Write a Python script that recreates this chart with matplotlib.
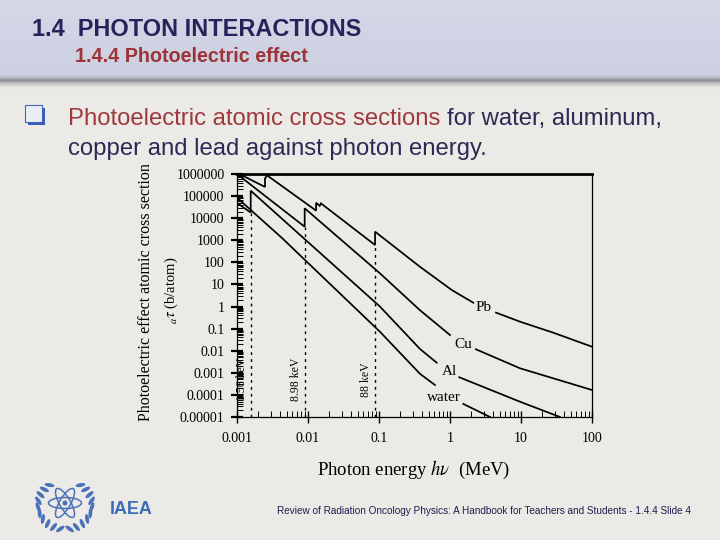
import numpy as np
import matplotlib
matplotlib.use("Agg")
import matplotlib.pyplot as plt
from matplotlib.patches import Rectangle, Ellipse
from matplotlib.ticker import FixedLocator, FixedFormatter, LogLocator, NullFormatter

# ---------------- data ----------------
energy_ticks = [0.001, 0.01, 0.1, 1, 10, 100]
energy_tick_labels = ["0.001", "0.01", "0.1", "1", "10", "100"]
sigma_ticks = [1e6, 1e5, 1e4, 1e3, 1e2, 1e1, 1, 1e-1, 1e-2, 1e-3, 1e-4, 1e-5]
sigma_tick_labels = ["1000000", "100000", "10000", "1000", "100", "10", "1",
                     "0.1", "0.01", "0.001", "0.0001", "0.00001"]

# photon energy (MeV) / photoelectric atomic cross section (b/atom)
pb_energy = [0.001, 0.00248, 0.00248, 0.00265, 0.013, 0.013, 0.0146, 0.0152,
             0.088, 0.088, 0.378, 1.06, 2.13, 4.45, 9.7, 28.5, 100]
pb_sigma = [1.13e6, 2.6e5, 6.3e5, 8.7e5, 2.2e4, 5.0e4, 3.6e4, 4.7e4,
            610, 2450, 63, 5.6, 1.49, 0.53, 0.206, 0.0655, 0.0152]

cu_energy = [0.001, 0.00898, 0.00898, 0.103, 0.378, 1.0, 2.32, 9.7, 100]
cu_sigma = [1.0e6, 4.1e3, 2.8e4, 32, 0.68, 0.0515, 0.0116, 0.0016, 1.67e-4]

al_energy = [0.001, 0.00156, 0.00156, 0.103, 0.378, 0.65, 1.35, 9.7, 35.4]
al_sigma = [4.9e4, 1.8e4, 1.75e5, 1.0, 0.012, 0.00287, 6.3e-4, 4.9e-5, 1.0e-5]

water_energy = [0.001, 0.0043, 0.103, 0.378, 0.615, 1.54, 3.66]
water_sigma = [8.5e4, 1.27e3, 0.0726, 9e-4, 2.8e-4, 3.9e-5, 1.0e-5]

material_names = ["Pb", "Cu", "Al", "water"]
# where each curve is interrupted by its label (MeV)
label_gaps = [(2.13, 4.45), (1.0, 2.32), (0.65, 1.35), (0.615, 1.54)]

edge_energy = [0.00156, 0.00898, 0.088]
edge_top = [1.8e4, 4.1e3, 610]
edge_labels = ["1.56 keV", "8.98 keV", "88 keV"]

# ---------------- figure ----------------
plt.rcParams['font.family'] = ['Liberation Serif', 'DejaVu Serif']
plt.rcParams['mathtext.fontset'] = 'stix'

W, H = 720, 540
fig = plt.figure(figsize=(7.2, 5.4), dpi=100)
body = (0.925, 0.918, 0.902)
fig.patch.set_facecolor(body)

ax_bg = fig.add_axes([0, 0, 1, 1], zorder=0)
ax_bg.set_xlim(0, W)
ax_bg.set_ylim(H, 0)
ax_bg.axis('off')

# header band with shadow
prof_y = np.array([0, 74, 77, 80, 83, 87, 95])
prof_c = np.array([[0.835, 0.845, 0.905],
                   [0.800, 0.815, 0.880],
                   [0.720, 0.725, 0.765],
                   [0.560, 0.560, 0.590],
                   [0.770, 0.768, 0.770],
                   [0.915, 0.908, 0.893],
                   body])
yy = np.arange(0, 95)
grad = np.stack([np.interp(yy, prof_y, prof_c[:, k]) for k in range(3)], axis=-1)
grad = np.repeat(grad[:, None, :], 2, axis=1)
ax_bg.imshow(grad, extent=(0, W, 95, 0), aspect='auto', interpolation='bilinear', zorder=0)
ax_bg.set_xlim(0, W)
ax_bg.set_ylim(H, 0)

renderer = fig.canvas.get_renderer()


def fit_text(x, y, s, width, **kw):
    t = ax_bg.text(x, y, s, **kw)
    w = t.get_window_extent(renderer).width
    t.set_fontsize(t.get_fontsize() * width / w)
    return t


navy = '#24245a'
red = '#9c3338'
sans = 'Liberation Sans'

fit_text(32, 36.5, "1.4  PHOTON INTERACTIONS", 330, family=sans, weight='bold',
         color=navy, va='baseline', fontsize=16)
fit_text(75, 62, "1.4.4 Photoelectric effect", 233, family=sans, weight='bold',
         color=red, va='baseline', fontsize=13)

# bullet
ax_bg.add_patch(Rectangle((27.5, 107.5), 17.5, 17.5, facecolor='#3a5cb6', edgecolor='none'))
ax_bg.add_patch(Rectangle((25, 105), 17, 17, facecolor='#e8ecf4', edgecolor='#4566bd', lw=0.8))

t_red = fit_text(68, 125, "Photoelectric atomic cross sections", 373, family=sans,
                 color='#a0393c', va='baseline', fontsize=15)
fs = t_red.get_fontsize()
w_red = t_red.get_window_extent(renderer).width
ax_bg.text(68 + w_red + 0.28 * fs * 100 / 72, 125, "for water, aluminum,", family=sans,
           color='#2a2a55', va='baseline', fontsize=fs)
ax_bg.text(68, 155, "copper and lead against photon energy.", family=sans,
           color='#2a2a55', va='baseline', fontsize=fs)

# footer
fit_text(277, 514, "Review of Radiation Oncology Physics: A Handbook for Teachers and Students - 1.4.4 Slide 4",
         415, family=sans, color='#1e1e50', va='baseline', fontsize=7)
fit_text(110, 514, "IAEA", 43, family=sans, weight='bold', color='#3b6cb6',
         va='baseline', fontsize=14)

# IAEA emblem (simplified)
logo_c = '#4a72bb'
cx, cy, R = 65, 505, 27
for side in (-1, 1):
    for a in np.linspace(100, 235, 10):
        ang = np.deg2rad(a if side < 0 else 180 - a)
        px = cx + R * np.cos(ang)
        py = cy + R * np.sin(ang) * 0.9
        tang = np.rad2deg(ang) + 90
        ax_bg.add_patch(Ellipse((px, py), 10, 3.8, angle=-tang + (25 * side),
                                facecolor=logo_c, edgecolor='none'))
for ang in (0, 60, 120):
    ax_bg.add_patch(Ellipse((cx, cy - 2), 33, 11, angle=ang, facecolor='none',
                            edgecolor=logo_c, lw=1.1))
ax_bg.add_patch(Ellipse((cx, cy - 2), 5, 5, facecolor=logo_c, edgecolor='none'))

# ---------------- chart ----------------
left, right, top, bottom = 237, 592, 174, 417
ax = fig.add_axes([left / W, 1 - bottom / H, (right - left) / W, (bottom - top) / H], zorder=2)
ax.set_facecolor('none')
ax.set_xscale('log')
ax.set_yscale('log')
ax.set_xlim(1e-3, 100)
ax.set_ylim(1e-5, 1e6)

series = [(pb_energy, pb_sigma), (cu_energy, cu_sigma), (al_energy, al_sigma),
          (water_energy, water_sigma)]
for (E, S), (lo, hi) in zip(series, label_gaps):
    E = np.asarray(E)
    S = np.asarray(S)
    m1 = E <= lo
    m2 = E >= hi
    ax.plot(E[m1], S[m1], color='black', lw=1.25, solid_joinstyle='miter')
    ax.plot(E[m2], S[m2], color='black', lw=1.25, solid_joinstyle='miter')

label_xy = [(2.96, 0.95), (1.55, 0.0201), (0.984, 1.12e-3), (0.81, 7.8e-5)]
for name, (lx, ly) in zip(material_names, label_xy):
    ax.text(lx, ly, name, ha='center', va='center', fontsize=11)

ax.vlines(edge_energy, 1e-5, edge_top, colors='black', linestyles=(0, (2, 3)), lw=1.0)
for e, lbl in zip(edge_energy, edge_labels):
    ax.annotate(lbl, xy=(e, 5e-4), xytext=(-2, 0), textcoords='offset points',
                rotation=90, ha='right', va='center', fontsize=8.5)

ax.xaxis.set_major_locator(FixedLocator(energy_ticks))
ax.xaxis.set_major_formatter(FixedFormatter(energy_tick_labels))
ax.yaxis.set_major_locator(FixedLocator(sigma_ticks))
ax.yaxis.set_major_formatter(FixedFormatter(sigma_tick_labels))
ax.xaxis.set_minor_locator(LogLocator(base=10, subs=np.arange(2, 10), numticks=100))
ax.yaxis.set_minor_locator(LogLocator(base=10, subs=np.arange(2, 10), numticks=100))
ax.xaxis.set_minor_formatter(NullFormatter())
ax.yaxis.set_minor_formatter(NullFormatter())
ax.tick_params(which='major', direction='inout', length=8, width=1.0, labelsize=10)
ax.tick_params(axis='y', which='major', width=1.6, pad=5)
ax.tick_params(axis='x', which='major', pad=7)
ax.tick_params(which='minor', direction='in', length=4, width=0.7)
for s in ('left', 'right', 'bottom'):
    ax.spines[s].set_linewidth(0.9)
ax.spines['top'].set_linewidth(2.0)

ax_bg.text(414, 470, r"Photon energy $h\nu$  (MeV)", ha='center', va='center', fontsize=13.5)
ax_bg.text(146, 292, "Photoelectric effect atomic cross section", rotation=90,
           ha='center', va='center', fontsize=11.5)
ax_bg.text(171, 290, r"${}_{a}\tau$ (b/atom)", rotation=90, ha='center', va='center',
           fontsize=10.5)

fig.savefig("out.png", dpi=100, facecolor=fig.get_facecolor())
